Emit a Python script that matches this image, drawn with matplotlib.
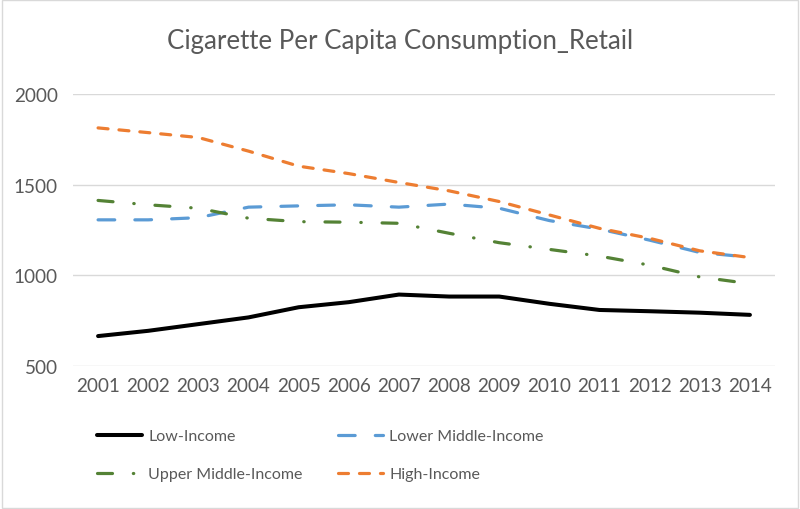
import matplotlib
matplotlib.use("Agg")
import matplotlib.pyplot as plt
from matplotlib.patches import Rectangle

plt.rcParams['font.family'] = ['Lato', 'DejaVu Sans']
plt.rcParams['lines.scale_dashes'] = False

years = [2001, 2002, 2003, 2004, 2005, 2006, 2007, 2008, 2009, 2010, 2011, 2012, 2013, 2014]
low_income = [665, 694, 731, 768, 824, 852, 894, 883, 883, 843, 809, 802, 794, 782]
lower_middle = [1306, 1306, 1318, 1376, 1383, 1389, 1376, 1393, 1370, 1302, 1255, 1194, 1126, 1100]
upper_middle = [1413, 1389, 1370, 1315, 1296, 1293, 1287, 1232, 1180, 1143, 1106, 1056, 991, 954]
high_income = [1813, 1787, 1760, 1685, 1602, 1561, 1512, 1466, 1407, 1333, 1259, 1204, 1135, 1098]
labels = ['Low-Income', 'Lower Middle-Income', 'Upper Middle-Income', 'High-Income']
y_ticks = [500, 1000, 1500, 2000]
title = 'Cigarette Per Capita Consumption_Retail'

text_color = '#595959'
fig = plt.figure(figsize=(8, 5.1), dpi=100)
ax = fig.add_axes([73/800, 1-367/510, (775-73)/800, (367-95)/510])

l1, = ax.plot(years, low_income, color='black', lw=2.9, solid_capstyle='round', solid_joinstyle='round', label=labels[0])
l2, = ax.plot(years, lower_middle, color='#5b9bd5', lw=2.3, dash_capstyle='round', label=labels[1])
l2.set_dashes((12, 14.5))
l3, = ax.plot(years, upper_middle, color='#548235', lw=2.3, dash_capstyle='round', label=labels[2])
l3.set_dashes((10.8, 15, 0.3, 15))
l4, = ax.plot(years, high_income, color='#ed7d31', lw=2.3, dash_capstyle='round', label=labels[3])
l4.set_dashes((7.2, 7.9))

ax.set_xlim(2000.5, 2014.5)
ax.set_ylim(500, 2000)
ax.set_yticks(y_ticks)
ax.set_xticks(years)
ax.set_xticklabels([str(y) for y in years])
ax.grid(axis='y', color='#d9d9d9', lw=1)
ax.set_axisbelow(True)
for s in ax.spines.values():
    s.set_visible(False)
ax.tick_params(length=0, labelsize=13.6, labelcolor=text_color, pad=8)
ax.tick_params(axis='y', pad=11)

fig.text(0.5, 1-42/510, title, ha='center', va='center', fontsize=18.6, color=text_color)

legend_kw = dict(loc='upper left', frameon=False, fontsize=11.5, handlelength=2.8,
                 handletextpad=0.4, labelspacing=1.5, borderpad=0, borderaxespad=0)
leg1 = fig.legend([l1, l3], [labels[0], labels[2]], bbox_to_anchor=(97/800, 1-430/510), **legend_kw)
leg2 = fig.legend([l2, l4], [labels[1], labels[3]], bbox_to_anchor=(338/800, 1-430/510), **legend_kw)
for leg in (leg1, leg2):
    for t in leg.get_texts():
        t.set_color(text_color)

fig.patches.append(Rectangle((0.002, 0.002), 0.996, 0.996, transform=fig.transFigure,
                             fill=False, edgecolor='#d9d9d9', lw=1))
fig.savefig('out.png', dpi=100, facecolor='white')
